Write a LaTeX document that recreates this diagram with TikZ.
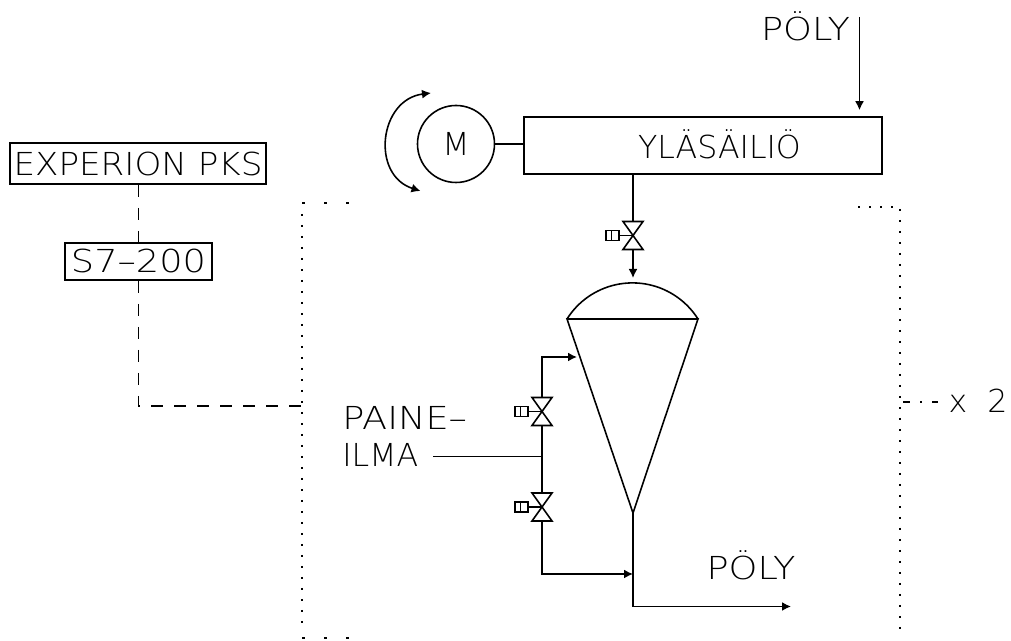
\documentclass[tikz,border=0pt]{standalone}
\usepackage{fontspec}
\setmainfont{DejaVu Sans}[UprightFont=* ExtraLight]
\newfontfamily\widetext{DejaVu Sans}[UprightFont=* ExtraLight,FakeStretch=1.16]
\newfontfamily\midtext{DejaVu Sans}[UprightFont=* ExtraLight,FakeStretch=1.08]
\usetikzlibrary{arrows.meta}
\tikzset{
    pipe/.style={line width=0.9pt},
    flow/.style={pipe,-{Latex[length=0.18cm,width=0.18cm]}},
    rotation/.style={pipe,{Latex[length=0.18cm,width=0.18cm]}-{Latex[length=0.18cm,width=0.18cm]}},
    signal/.style={line width=0.9pt,dash pattern=on 0.24cm off 0.22cm},
    frame/.style={line width=1.1pt,dash pattern=on 0.04cm off 0.18cm},
    frameside/.style={line width=1.1pt,dash pattern=on 0.06cm off 0.38cm},
    frametail/.style={line width=1.1pt,dash pattern=on 0.14cm off 0.2cm on 0.04cm off 0.2cm},
    tag/.style={font=\fontsize{18}{21.5}\selectfont,inner sep=0pt},
    box/.style={draw,pipe,inner sep=0pt,font=\fontsize{18}{21.5}\selectfont},
    valve/.pic={
        \draw[pipe] (-0.2,0.28) -- (0.2,0.28) -- (-0.2,-0.28) -- (0.2,-0.28) -- cycle;
        \draw[pipe] (-0.54,-0.1) rectangle (-0.28,0.1);
        \draw[pipe] (-0.43,-0.1) -- (-0.43,0.1);
        \draw[pipe] (-0.28,0) -- (0,0);
        \coordinate (-top) at (0,0.28);
        \coordinate (-bot) at (0,-0.28);
    }
}
\begin{document}
\begin{tikzpicture}
    \useasboundingbox (0,0) rectangle (20.22,12.82);

    \node[box,minimum width=7.16cm,minimum height=1.14cm] (tank) at (14.06,9.91) {};
    \node[tag] (tanktext) at (14.39,9.93) {YLÄSÄILIÖ};
    \node[box,circle,minimum size=1.54cm] (motor) at (9.12,9.94) {M};
    \node[box,minimum width=5.12cm,minimum height=0.82cm] (pks) at (2.76,9.55) {\midtext EXPERION PKS};
    \node[box,minimum width=2.94cm,minimum height=0.74cm] (plc) at (2.77,7.59) {\widetext S7–200};
    \node[tag] (dustin) at (16.11,12.3) {\widetext PÖLY};
    \node[tag] (dustout) at (15.02,1.52) {\widetext PÖLY};
    \node[tag,align=left,anchor=west] (air) at (6.84,4.09) {{\widetext PAINE–}\\ILMA};
    \node[tag] (times) at (19.56,4.8) {x\ \ 2};

    \coordinate (domeL) at (11.34,6.44);
    \coordinate (domeR) at (13.96,6.44);
    \coordinate (domeT) at (12.66,7.18);
    \coordinate (apex) at (12.66,2.56);
    \coordinate (feed) at (17.19,12.48);
    \coordinate (rotA) at (8.62,10.96);
    \coordinate (rotB) at (8.41,9);
    \coordinate (airA) at (8.66,3.69);
    \coordinate (airB) at (10.84,3.69);
    \coordinate (inup) at (11.54,5.68);
    \coordinate (inlow) at (12.66,1.34);
    \coordinate (outend) at (15.82,0.69);
    \coordinate (framein) at (6.04,4.7);
    \coordinate (tailA) at (18.06,4.78);
    \coordinate (tailB) at (18.76,4.78);

    \pic (vtop) at (12.66,8.11) {valve};
    \pic (vup) at (10.84,4.59) {valve};
    \pic (vlow) at (10.84,2.68) {valve};

    % tank and hopper
    \draw[pipe] (domeL) arc[start angle=147.7,end angle=32.3,radius=1.55];
    \draw[pipe] (domeL) -- (domeR) -- (apex) -- cycle;

    \draw[pipe] (motor) ++(0.77,0) -- (motor -| tank.west);
    \draw[flow,shorten >=0.12cm] (feed) -- (feed |- tank.north);
    \draw[pipe] (vtop-top |- tank.south) -- (vtop-top);
    \draw[flow,shorten >=0.08cm] (vtop-bot) -- (domeT);
    \draw[rotation] (rotA) .. controls (7.58,10.83) and (7.41,9.32) .. (rotB);

    \draw[pipe] (airA) -- (airB);
    \draw[pipe] (vup-bot) -- (vlow-top);
    \draw[flow] (vup-top) |- (inup);
    \draw[flow] (vlow-bot) |- (inlow);
    \draw[flow] (apex) |- (outend);

    \draw[signal] (pks.south -| plc) -- (plc.north);
    \draw[signal] (plc.south) |- (framein);

    % dotted frame
    \draw[frameside] (6.04,8.76) -- (6.98,8.76);
    \draw[frame] (6.04,8.54) -- (6.04,0.28);
    \draw[frameside] (6.04,0.06) -- (6.98,0.06);
    \draw[frame] (17.16,8.68) -- (18,8.68) -- (18,0.18);
    \draw[frametail] (tailA) -- (tailB);
\end{tikzpicture}
\end{document}
